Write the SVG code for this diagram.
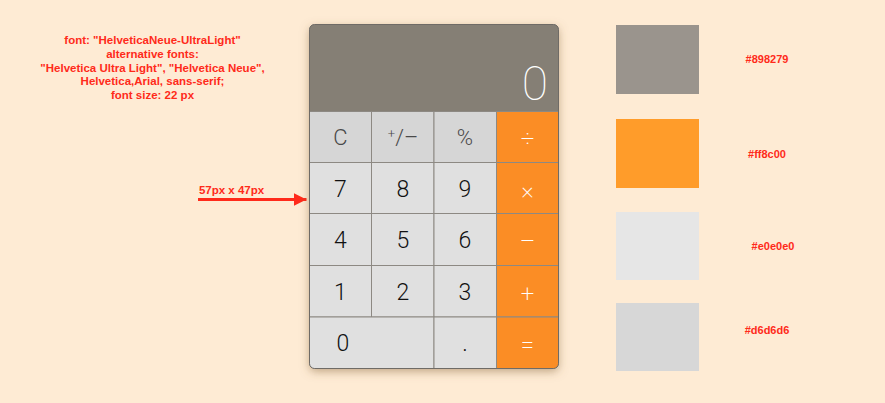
<svg xmlns="http://www.w3.org/2000/svg" width="885" height="403" viewBox="0 0 885 403">
<defs>
<style>
.note{font-family:"Liberation Sans",Arial,sans-serif;font-weight:bold;font-size:11.5px;fill:#ff2a1a;text-anchor:middle}
.hex{font-family:"Liberation Sans",Arial,sans-serif;font-weight:bold;font-size:11px;fill:#ff2a1a;text-anchor:middle}
.key{stroke:#8d8983;stroke-width:1}
.gl{fill:#e0e0e0}
.gd{fill:#d6d6d6}
.or{fill:#fb8d25}
.lab{font-family:Roboto,"Open Sans","Liberation Sans",sans-serif;font-weight:300;font-size:23px;text-anchor:middle;fill:#111}
.fn{fill:#4a4a4a;font-size:22px}
.op{fill:#ffffff;font-weight:200;font-size:24px}
</style>
<filter id="sh" x="-20%" y="-20%" width="140%" height="140%">
<feDropShadow dx="0" dy="3" stdDeviation="5" flood-color="#8a6a40" flood-opacity="0.55"/>
</filter>
<marker id="ah" viewBox="0 0 10 10" refX="10" refY="5" markerWidth="4.3" markerHeight="4.3" orient="auto" markerUnits="strokeWidth">
<path d="M0,0 L10,5 L0,10 Z" fill="#ff2a1a"/>
</marker>
</defs>
<rect width="885" height="403" fill="#feebd4"/>

<g id="font-note">
<text class="note" x="152.5" y="44">font: "HelveticaNeue-UltraLight"</text>
<text class="note" x="152.5" y="58">alternative fonts:</text>
<text class="note" x="152.5" y="71.5">"Helvetica Ultra Light", "Helvetica Neue",</text>
<text class="note" x="152.5" y="85">Helvetica,Arial, sans-serif;</text>
<text class="note" x="152.5" y="98.5">font size: 22 px</text>
</g>

<g id="size-note">
<text class="note" x="231.5" y="193.5">57px x 47px</text>
</g>

<g id="connectors">
<line x1="198" y1="199.5" x2="306.5" y2="199.5" stroke="#ff2a1a" stroke-width="3" marker-end="url(#ah)"/>
</g>

<g id="calculator">
<rect x="309.5" y="24.5" width="249" height="344" rx="5" fill="#857f75" filter="url(#sh)"/>
<clipPath id="cc"><rect x="309.5" y="24.5" width="249" height="344" rx="5"/></clipPath>
<g clip-path="url(#cc)">
<rect x="309.5" y="24.5" width="249" height="87" fill="#857f75"/>
<g id="row1">
<rect class="gd key" x="309.5" y="111.5" width="62" height="51"/>
<rect class="gd key" x="371.5" y="111.5" width="62.5" height="51"/>
<rect class="gd key" x="434" y="111.5" width="62.5" height="51"/>
<rect class="or key" x="496.5" y="111.5" width="62" height="51"/>
</g>
<g id="row2">
<rect class="gl key" x="309.5" y="162.5" width="62" height="51"/>
<rect class="gl key" x="371.5" y="162.5" width="62.5" height="51"/>
<rect class="gl key" x="434" y="162.5" width="62.5" height="51"/>
<rect class="or key" x="496.5" y="162.5" width="62" height="51"/>
</g>
<g id="row3">
<rect class="gl key" x="309.5" y="213.5" width="62" height="52"/>
<rect class="gl key" x="371.5" y="213.5" width="62.5" height="52"/>
<rect class="gl key" x="434" y="213.5" width="62.5" height="52"/>
<rect class="or key" x="496.5" y="213.5" width="62" height="52"/>
</g>
<g id="row4">
<rect class="gl key" x="309.5" y="265.5" width="62" height="51.5"/>
<rect class="gl key" x="371.5" y="265.5" width="62.5" height="51.5"/>
<rect class="gl key" x="434" y="265.5" width="62.5" height="51.5"/>
<rect class="or key" x="496.5" y="265.5" width="62" height="51.5"/>
</g>
<g id="row5">
<rect class="gl key" x="309.5" y="317" width="124.5" height="52"/>
<rect class="gl key" x="434" y="317" width="62.5" height="52"/>
<rect class="or key" x="496.5" y="317" width="62" height="52"/>
</g>
</g>
<rect x="309.5" y="24.5" width="249" height="344" rx="5" fill="none" stroke="#6f6b66" stroke-width="1"/>

<text class="lab" x="548" y="100" style="text-anchor:end;font-size:48px;font-weight:100;fill:#ffffff">0</text>

<text class="lab fn" x="340.5" y="144.5">C</text>
<text class="lab fn" x="403" y="144.5"><tspan font-size="13" dy="-7">+</tspan><tspan dy="7">/–</tspan></text>
<text class="lab fn" x="465" y="144.5">%</text>
<text class="lab op" x="527.5" y="147">÷</text>

<text class="lab" x="340.5" y="197">7</text>
<text class="lab" x="403" y="197">8</text>
<text class="lab" x="465" y="197">9</text>
<text class="lab op" x="527.5" y="198">×</text>

<text class="lab" x="340.5" y="248">4</text>
<text class="lab" x="403" y="248">5</text>
<text class="lab" x="465" y="248">6</text>
<text class="lab op" x="527.5" y="249">–</text>

<text class="lab" x="340.5" y="299.5">1</text>
<text class="lab" x="403" y="299.5">2</text>
<text class="lab" x="465" y="299.5">3</text>
<text class="lab op" x="527.5" y="301.5">+</text>

<text class="lab" x="343" y="351">0</text>
<text class="lab" x="465" y="351">.</text>
<text class="lab op" x="527.5" y="353">=</text>
</g>

<g id="swatch-898279">
<rect x="616" y="25" width="83" height="69" fill="#9a948d"/>
<text class="hex" x="767" y="63">#898279</text>
</g>
<g id="swatch-ff8c00">
<rect x="616" y="119" width="83" height="69" fill="#ff9c2a"/>
<text class="hex" x="767" y="158">#ff8c00</text>
</g>
<g id="swatch-e0e0e0">
<rect x="616" y="212" width="83" height="68" fill="#e6e6e6"/>
<text class="hex" x="773" y="249.5">#e0e0e0</text>
</g>
<g id="swatch-d6d6d6">
<rect x="616" y="303" width="83" height="68" fill="#d7d7d7"/>
<text class="hex" x="767" y="333.5">#d6d6d6</text>
</g>
</svg>
